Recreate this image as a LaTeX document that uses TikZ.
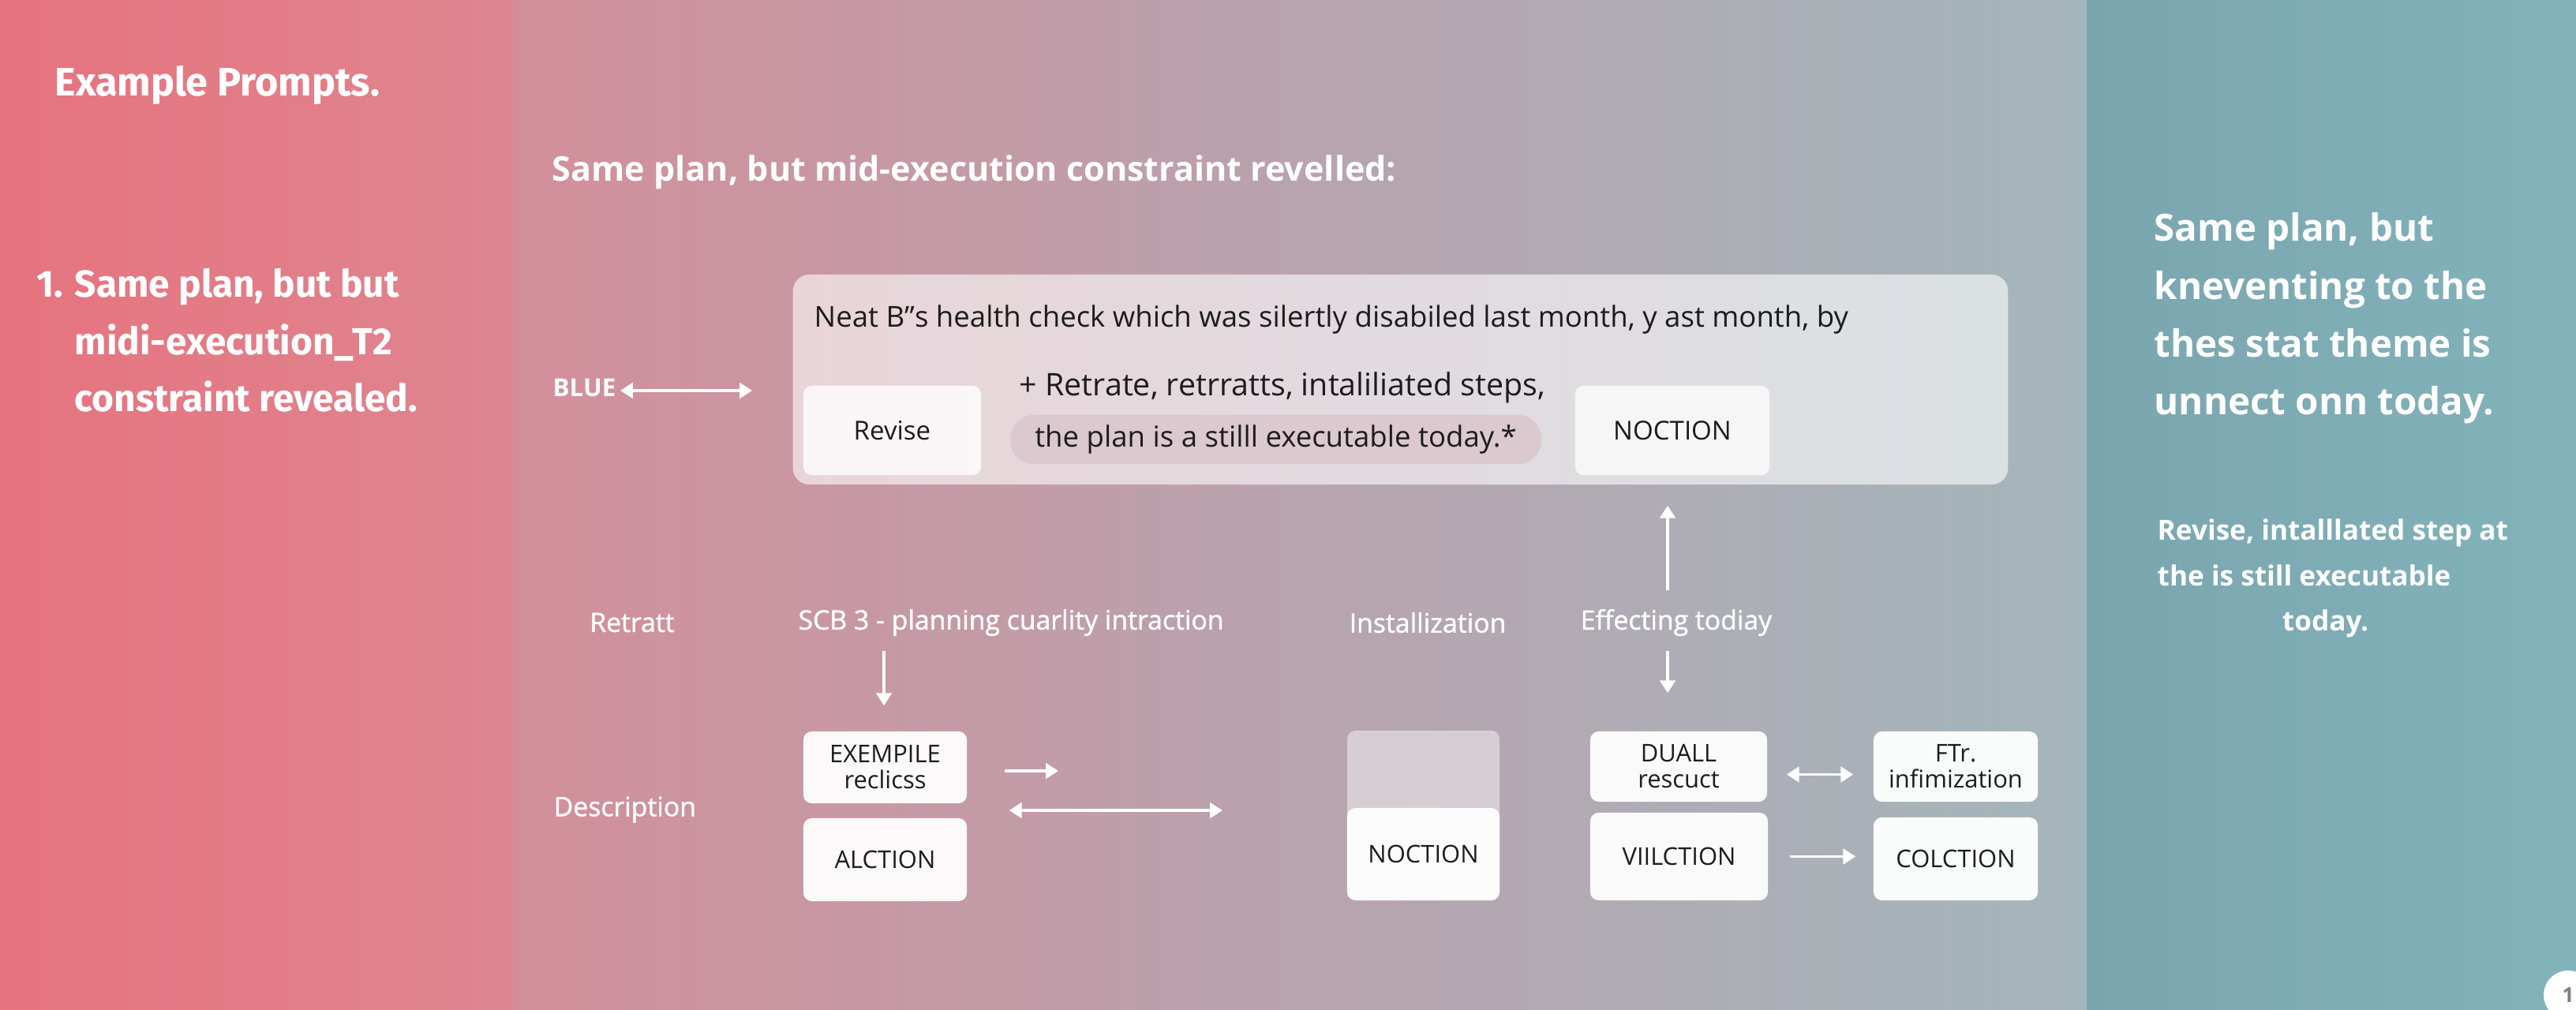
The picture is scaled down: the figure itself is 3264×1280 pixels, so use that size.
\documentclass[tikz,border=0pt]{standalone}
\usepackage{fontspec}
\setmainfont{Open Sans}
\newfontfamily\leftfont{Fira Sans}
\newfontfamily\semifont[FakeBold=1.2]{Open Sans}
\usepackage{xcolor}
\usepackage{tikz}
\usetikzlibrary{arrows.meta,positioning}

\definecolor{coralL}{HTML}{E6737E}
\definecolor{coralR}{HTML}{DE8690}
\definecolor{midL}{HTML}{D28F9B}
\definecolor{midM}{HTML}{B8A3AE}
\definecolor{midR}{HTML}{A4B6BC}
\definecolor{tealL}{HTML}{7AA5AF}
\definecolor{tealR}{HTML}{82B3BA}
\definecolor{ink}{HTML}{1C1C1C}
\definecolor{pillc}{HTML}{DCC8CF}
\newcommand{\fsz}[2]{\fontsize{#1}{#2}\selectfont}

\begin{document}
\begin{tikzpicture}[x=0.01cm,y=-0.01cm,
    card/.style={fill=white,fill opacity=0.95,text opacity=1,rounded corners=3pt,inner sep=1pt,align=center,text=ink,font=\fsz{8.8}{9.4}},
    lbl/.style={text=white,inner sep=0pt,font=\semifont\fsz{9.6}{11}},
    arr/.style={draw=white,line width=1.1pt,-{Triangle[width=5.5pt,length=4.5pt]}},
    darr/.style={draw=white,line width=1.1pt,{Triangle[width=5.5pt,length=4.5pt]}-{Triangle[width=5.5pt,length=4.5pt]}}]
    \useasboundingbox (0,0) rectangle (3264,1280);
    % three panels
    \shade[left color=coralL,right color=coralR] (0,0) rectangle (650,1280);
    \shade[left color=midL,right color=midR,middle color=midM] (650,0) rectangle (2644,1280);
    \shade[left color=tealL,right color=tealR] (2644,0) rectangle (3264,1280);

    % left panel
    \node[anchor=base west,inner sep=0pt,text=white,font=\leftfont\bfseries\fsz{14.3}{18}] (prompts) at (69,122) {Example Prompts.};
    \node[anchor=base west,inner sep=0pt,text=white,font=\leftfont\bfseries\fsz{13.6}{20.5}] (item) at (46,377)
        {\begin{tabular}[t]{@{}p{13.7pt}@{}l@{}}1.&Same plan, but but\\&midi-execution\_T2\\&constraint revealed.\end{tabular}};

    % middle panel
    \node[anchor=base west,inner sep=0pt,text=white,font=\bfseries\fsz{12.25}{15}] (heading) at (699,230) {Same plan, but mid-execution constraint revelled:};
    \node[anchor=base west,inner sep=0pt,text=white,font=\bfseries\fsz{8.9}{11}] (blue) at (700,503) {BLUE};
    \node[fill=white,fill opacity=0.6,rounded corners=6pt,minimum width=15.39cm,minimum height=2.66cm] (bigbox) at (1774.5,481) {};
    \node[anchor=base west,inner sep=0pt,text=ink,font=\fsz{10.4}{12}] (neat) at (1031,415) {Neat B”s health check which was silertly disabiled last month, y ast month, by};
    \node[card,fill opacity=0.8,font=\fsz{9.4}{11},minimum width=2.25cm,minimum height=1.13cm] (revise) at (1130.5,545.5) {Revise};
    \node[anchor=base west,inner sep=0pt,text=ink,font=\fsz{11.2}{12}] (retr) at (1291,502) {+ Retrate, retrratts, intaliliated steps,};
    \node[fill=pillc,rounded corners=0.3cm,minimum width=6.73cm,minimum height=0.62cm,inner sep=1pt,text=ink,font=\fsz{10.4}{12}] (pill) at (1616.5,557) {the plan is a stilll executable today.*};
    \node[card,fill opacity=0.75,font=\fsz{9.4}{11},minimum width=2.46cm,minimum height=1.13cm] (nocA) at (2119,545.5) {NOCTION};
    \coordinate (blueend) at (953,495);
    \draw[darr,shorten <=0.05cm] (blue.east |- blueend) -- (blueend);

    % row of labels
    \node[lbl] (retratt) at (801,789) {Retratt};
    \node[lbl] (scb) at (1281,789) {SCB 3 - planning cuarlity intraction};
    \node[lbl] (inst) at (1809,789) {Installization};
    \node[lbl] (eff) at (2124,789) {Effecting todiay};
    \node[lbl,anchor=west] (desc) at (701,1026) {Description};

    % lower cards
    \node[card,minimum width=2.07cm,minimum height=0.91cm] (exemp) at (1121.5,972.5) {EXEMPILE\\reclicss};
    \node[card,minimum width=2.07cm,minimum height=1.05cm] (alction) at (1121.5,1089.5) {ALCTION};
    \node[fill=white,fill opacity=0.45,rounded corners=3pt,minimum width=1.93cm,minimum height=2.15cm] (nocshade) at (1803.5,1033.5) {};
    \node[card,minimum width=1.93cm,minimum height=1.17cm] (nocB) at (1803.5,1082.5) {NOCTION};
    \node[card,minimum width=2.24cm,minimum height=0.89cm] (duall) at (2127,971.5) {DUALL\\rescuct};
    \node[card,minimum width=2.25cm,minimum height=1.11cm] (viil) at (2127.5,1085.5) {VIILCTION};
    \node[card,minimum width=2.08cm,minimum height=0.89cm] (ftr) at (2478,971.5) {FTr.\\infimization};
    \node[card,minimum width=2.08cm,minimum height=1.05cm] (colc) at (2478,1088.5) {COLCTION};

    % connectors
    \coordinate (effaxis) at (2113,789);
    \coordinate (exto) at (1341,977);
    \coordinate (dto) at (1549,1027);
    \draw[arr,shorten <=0.18cm,shorten >=0.32cm] (scb.south -| 1120,0) -- (exemp.north -| 1120,0);
    \draw[arr,shorten <=0.23cm,shorten >=0.38cm] (effaxis |- eff.north) -- (effaxis |- nocA.south);
    \draw[arr,shorten <=0.18cm,shorten >=0.48cm] (effaxis |- eff.south) -- (effaxis |- duall.north);
    \draw[arr,shorten <=0.47cm] (exemp.east |- exto) -- (exto);
    \draw[darr,shorten <=0.53cm] (exemp.east |- dto) -- (dto);
    \draw[darr,shorten <=0.24cm,shorten >=0.25cm] ([yshift=-0.1cm]duall.east) -- ([yshift=-0.1cm]ftr.west);
    \draw[arr,shorten <=0.27cm,shorten >=0.22cm] (viil.east) -- (viil.east -| colc.west);

    % right panel
    \node[anchor=base west,inner sep=0pt,text=white,font=\bfseries\fsz{13.5}{20.8}] (rtitle) at (2729,306)
        {\begin{tabular}[t]{@{}l@{}}Same plan, but\\kneventing to the\\thes stat theme is\\unnect onn today.\end{tabular}};
    \node[anchor=base west,inner sep=0pt,text=white,font=\bfseries\fsz{10}{16.3}] (rnote) at (2733,685)
        {\begin{tabular}[t]{@{}l@{}}Revise, intalllated step at\\the is still executable\\\hspace*{45pt}today.\end{tabular}};
    \node[circle,fill=white,minimum size=0.62cm,inner sep=0pt,text=gray,font=\bfseries\fsz{7.5}{9}] (pgnum) at (3254,1261) {1};
\end{tikzpicture}
\end{document}
